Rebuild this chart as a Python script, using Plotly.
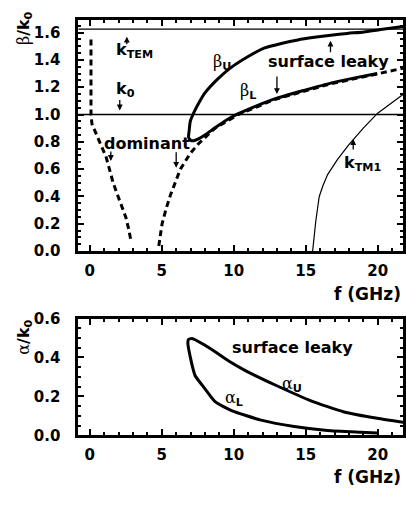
import plotly.graph_objects as go

# ---------------- data ----------------
# dominant mode (dashed), branch 1 and branch 2
dom1_f = [0.08, 0.08, 0.08, 0.15, 0.43, 0.8, 1.12, 1.34, 1.62, 1.92, 2.2, 2.5, 2.7, 2.84]
dom1_b = [1.55, 1.30, 1.00, 0.93, 0.856, 0.77, 0.693, 0.60, 0.50, 0.412, 0.33, 0.248, 0.16, 0.084]
dom2_f = [4.79, 5.02, 5.3, 5.6, 6.0, 6.29, 6.98, 7.55, 8.7, 10.31, 12.84, 16.74, 19.97, 21.8]
dom2_b = [0.037, 0.20, 0.31, 0.41, 0.52, 0.60, 0.716, 0.786, 0.90, 1.0, 1.11, 1.225, 1.297, 1.34]

# surface leaky mode: beta_L (reversed) + beta_U
sl_f = [19.97, 18.5, 16.74, 15.0, 12.84, 11.5, 10.31, 9.5, 8.7, 8.0, 7.55, 7.2, 7.0, 6.86,
        6.9, 6.98, 7.2, 7.6, 8.01, 8.93, 9.85, 11.0, 12.15, 13.3, 14.45, 15.6, 16.74, 17.9, 19.05, 20.2, 21.8]
sl_b = [1.30, 1.27, 1.23, 1.18, 1.114, 1.06, 1.006, 0.96, 0.903, 0.85, 0.822, 0.808, 0.812, 0.835,
        0.88, 0.95, 1.008, 1.09, 1.16, 1.265, 1.347, 1.425, 1.488, 1.52, 1.546, 1.565, 1.581, 1.594, 1.605, 1.623, 1.645]

# TM1 line
tm1_f = [15.48, 15.7, 15.94, 16.2, 16.52, 17.2, 18.0, 19.0, 20.0, 21.0, 21.8]
tm1_b = [0.0, 0.22, 0.40, 0.48, 0.56, 0.67, 0.78, 0.90, 1.01, 1.09, 1.15]

# reference lines
k0_level = 1.0
ktem_level = 1.625

# attenuation: alpha_L (reversed) + alpha_U
al_f = [19.97, 18.8, 16.5, 14.2, 11.9, 9.85, 8.7, 7.9, 7.32, 6.98, 6.81, 6.85, 7.09,
        8.47, 9.62, 10.77, 13.07, 15.37, 17.67, 19.97, 21.8]
al_a = [0.012, 0.016, 0.025, 0.045, 0.078, 0.127, 0.173, 0.249, 0.306, 0.402, 0.476, 0.492, 0.497,
        0.441, 0.383, 0.334, 0.252, 0.177, 0.12, 0.087, 0.066]

x_ticks = [0, 5, 10, 15, 20]

# ---------------- figure ----------------
W, H = 406, 506
FONT = "DejaVu Sans"
GREEK = "DejaVu Serif"

def py(p):  # pixel from top -> paper fraction
    return 1 - p / H

fig = go.Figure()

dash = dict(color="black", width=3, dash="6px,4px")
fig.add_trace(go.Scatter(x=dom1_f, y=dom1_b, mode="lines", line=dash, xaxis="x", yaxis="y"))
fig.add_trace(go.Scatter(x=dom2_f, y=dom2_b, mode="lines", line=dash, xaxis="x", yaxis="y"))
fig.add_trace(go.Scatter(x=sl_f, y=sl_b, mode="lines",
                         line=dict(color="black", width=3, shape="spline", smoothing=0.6),
                         xaxis="x", yaxis="y"))
fig.add_trace(go.Scatter(x=tm1_f, y=tm1_b, mode="lines", line=dict(color="black", width=1.2),
                         xaxis="x", yaxis="y"))
fig.add_trace(go.Scatter(x=al_f, y=al_a, mode="lines",
                         line=dict(color="black", width=3, shape="spline", smoothing=0.5),
                         xaxis="x2", yaxis="y2"))

for lev in (k0_level, ktem_level):
    fig.add_shape(type="line", xref="x domain", yref="y", x0=0, x1=1, y0=lev, y1=lev,
                  line=dict(color="black", width=1.3))

xl_px, xr_px = 79, 406
x0_px, xscale = 90.5, 14.5
xrange = [(xl_px - x0_px) / xscale, (xr_px - x0_px) / xscale]

axis_common = dict(showline=True, linewidth=3, linecolor="black", mirror="ticks",
                   ticks="inside", tickcolor="black", showgrid=False, zeroline=False,
                   tickfont=dict(family=FONT, size=15, color="black", weight="bold"))

xa = dict(axis_common, domain=[xl_px / W, 1], range=xrange, tickvals=x_ticks,
          ticklen=6, tickwidth=2, ticklabelstandoff=4,
          minor=dict(dtick=1, tick0=0, ticks="inside", ticklen=3, tickwidth=1.5, tickcolor="black"))

fig.update_layout(
    width=W, height=H, margin=dict(l=0, r=0, t=0, b=0),
    paper_bgcolor="white", plot_bgcolor="white", showlegend=False,
    xaxis=dict(xa, anchor="y"),
    xaxis2=dict(xa, anchor="y2"),
    yaxis=dict(axis_common, domain=[py(251), py(11.7)], range=[0, 1.69], dtick=0.2, tick0=0,
               tickformat=".1f", ticklen=6, tickwidth=2, ticklabelstandoff=12,
               minor=dict(dtick=0.05, ticks="inside", ticklen=3, tickwidth=1.5, tickcolor="black"), anchor="x"),
    yaxis2=dict(axis_common, domain=[py(442), py(321)], range=[0, 0.6], dtick=0.2, tick0=0,
                tickformat=".1f", ticklen=6, tickwidth=2, ticklabelstandoff=12,
                minor=dict(dtick=0.05, ticks="inside", ticklen=3, tickwidth=1.5, tickcolor="black"), anchor="x2"),
)

bold = dict(family=FONT, size=16, color="black", weight="bold")

def g(ch):
    return (f'<span style="font-family:{GREEK};font-weight:normal;color:black;fill:black">'
            f'{ch}</span>')

texts = [
    # (x, y, text, xref, yref)
    (1.69, 1.467, "k<sub>TEM</sub>", "x", "y"),
    (1.69, 1.18, "k<sub>0</sub>", "x", "y"),
    (8.45, 1.38, g("β") + "<sub>U</sub>", "x", "y"),
    (10.31, 1.165, g("β") + "<sub>L</sub>", "x", "y"),
    (12.24, 1.39, "surface leaky", "x", "y"),
    (0.86, 0.786, "dominant", "x", "y"),
    (17.55, 0.64, "k<sub>TM1</sub>", "x", "y"),
    (9.74, 0.453, "surface leaky", "x2", "y2"),
    (13.19, 0.259, g("α") + "<sub>U</sub>", "x2", "y2"),
    (9.28, 0.19, g("α") + "<sub>L</sub>", "x2", "y2"),
]
for x, y, t, xr, yr in texts:
    fig.add_annotation(x=x, y=y, xref=xr, yref=yr, text=t, showarrow=False,
                       xanchor="left", yanchor="middle", font=bold)

arrows = [
    # tip (x, y), tail offset (ax, ay) in px
    (2.57, 1.57, 0, 9),
    (2.08, 1.03, 0, -12),
    (13.0, 1.15, 0, -19),
    (16.72, 1.54, 0, 13),
    (1.46, 0.66, 0, -11),
    (6.0, 0.61, 0, -17),
    (18.3, 0.82, 0, 12),
]
for x, y, ax, ay in arrows:
    fig.add_annotation(x=x, y=y, xref="x", yref="y", text="", showarrow=True,
                       ax=ax, ay=ay, arrowhead=2, arrowsize=0.9, arrowwidth=1.3, arrowcolor="black")

# axis titles
title_font = dict(family=FONT, size=16, color="black", weight="bold")
fig.add_annotation(x=24 / W, y=py(20), xref="paper", yref="paper", textangle=-90,
                   xanchor="center", yanchor="middle",
                   text=g("β") + "/k<sub>0</sub>", showarrow=False, font=title_font)
fig.add_annotation(x=25 / W, y=py(340), xref="paper", yref="paper", textangle=-90,
                   xanchor="center", yanchor="middle",
                   text=g("α") + "/k<sub>0</sub>", showarrow=False, font=title_font)
for ypx in (296, 485):
    fig.add_annotation(x=1, y=py(ypx), xref="paper", yref="paper", xanchor="right", yanchor="middle",
                       text="f (GHz)", showarrow=False,
                       font=dict(family=FONT, size=17, color="black", weight="bold"))

fig.write_html("out.html")
